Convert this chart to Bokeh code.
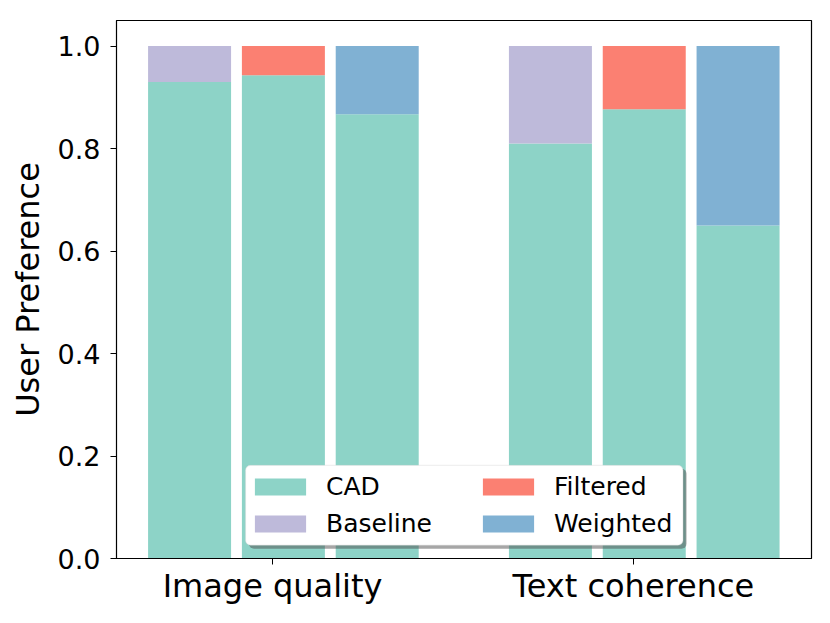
from bokeh.plotting import figure
from bokeh.models import Range1d, FixedTicker, Legend, LegendItem, CustomJSTickFormatter, BoxAnnotation
from bokeh.embed import file_html
from bokeh.resources import INLINE

groups = ["Image quality", "Text coherence"]
comparisons = ["Baseline", "Filtered", "Weighted"]
cad_image_quality = [0.93, 0.943, 0.867]
cad_text_coherence = [0.81, 0.877, 0.65]
colors = {"CAD": "#8dd3c7", "Baseline": "#bebada", "Filtered": "#fb8072", "Weighted": "#80b1d3"}

offsets = [-0.23, 0.03, 0.29]
bar_w = 0.23
cad_by_group = [cad_image_quality, cad_text_coherence]

X0, X1 = -0.4325, 1.4935
Y0, Y1 = 0.0, 1.05
FRAME_W, FRAME_H = 695, 539

p = figure(width=814, height=607, output_backend="svg", toolbar_location=None,
           x_range=Range1d(X0, X1), y_range=Range1d(Y0, Y1))
p.min_border_left = 116
p.min_border_right = 3
p.min_border_top = 20
p.min_border_bottom = 48
p.outline_line_color = "black"
p.outline_line_width = 1.2
p.xgrid.visible = False
p.ygrid.visible = False
p.background_fill_color = "white"

cad_x, cad_top = [], []
for gi, vals in enumerate(cad_by_group):
    for ci, v in enumerate(vals):
        cad_x.append(gi + offsets[ci])
        cad_top.append(v)
r_cad = p.vbar(x=cad_x, top=cad_top, bottom=0, width=bar_w, fill_color=colors["CAD"], line_color=None)

other_renderers = {}
for ci, name in enumerate(comparisons):
    xs = [gi + offsets[ci] for gi in range(len(groups))]
    bottoms = [cad_by_group[gi][ci] for gi in range(len(groups))]
    tops = [1.0 for _ in groups]
    other_renderers[name] = p.vbar(x=xs, top=tops, bottom=bottoms, width=bar_w,
                                   fill_color=colors[name], line_color=None)

# axes
p.xaxis.ticker = FixedTicker(ticks=list(range(len(groups))))
p.xaxis.major_label_overrides = {i: g for i, g in enumerate(groups)}
p.xaxis.major_label_text_font = "DejaVu Sans"
p.xaxis.major_label_text_font_size = "32px"
p.xaxis.major_label_text_color = "black"
p.xaxis.major_label_standoff = 2
p.xaxis.minor_tick_line_color = None
p.xaxis.major_tick_in = 0
p.xaxis.major_tick_out = 6
p.xaxis.major_tick_line_color = "black"
p.xaxis.axis_line_color = "black"

p.yaxis.ticker = FixedTicker(ticks=[0.0, 0.2, 0.4, 0.6, 0.8, 1.0])
p.yaxis.formatter = CustomJSTickFormatter(code="return tick.toFixed(1);")
p.yaxis.major_label_text_font = "DejaVu Sans"
p.yaxis.major_label_text_font_size = "27px"
p.yaxis.major_label_text_color = "black"
p.yaxis.major_label_standoff = 10
p.yaxis.minor_tick_line_color = None
p.yaxis.major_tick_in = 0
p.yaxis.major_tick_out = 6
p.yaxis.major_tick_line_color = "black"
p.yaxis.axis_line_color = "black"
p.yaxis.axis_label = "User Preference"
p.yaxis.axis_label_text_font = "DejaVu Sans"
p.yaxis.axis_label_text_font_size = "32px"
p.yaxis.axis_label_text_font_style = "normal"
p.yaxis.axis_label_text_color = "black"
p.yaxis.axis_label_standoff = 8


# legend frame + shadow, placed in frame pixels (from frame left / bottom)
def px_x(px):
    return X0 + px * (X1 - X0) / FRAME_W


def px_y(px):
    return Y0 + px * (Y1 - Y0) / FRAME_H


box_l, box_r, box_b, box_t = 129, 566.5, 13.3, 93.3
sh = 3.5
shadow = BoxAnnotation(left=px_x(box_l + sh), right=px_x(box_r + sh),
                       bottom=px_y(box_b - sh), top=px_y(box_t - sh),
                       fill_color="#4d4d4d", fill_alpha=0.5, line_color=None,
                       border_radius=5)
p.add_layout(shadow)
frame_box = BoxAnnotation(left=px_x(box_l), right=px_x(box_r),
                          bottom=px_y(box_b), top=px_y(box_t),
                          fill_color="white", fill_alpha=1.0,
                          line_color="#cccccc", line_width=1.3,
                          border_radius=5)
p.add_layout(frame_box)

legend = Legend(items=[
    LegendItem(label="CAD", renderers=[r_cad]),
    LegendItem(label="Baseline", renderers=[other_renderers["Baseline"]]),
    LegendItem(label="Filtered", renderers=[other_renderers["Filtered"]]),
    LegendItem(label="Weighted", renderers=[other_renderers["Weighted"]]),
], location=(132, 20), ncols=2)
legend.label_text_font = "DejaVu Sans"
legend.label_text_font_size = "25px"
legend.label_text_color = "black"
legend.glyph_width = 64
legend.glyph_height = 21
legend.label_standoff = 14
legend.label_height = 29
legend.label_width = 142
legend.spacing = 8
legend.padding = 7
legend.margin = 0
legend.border_line_color = None
legend.background_fill_alpha = 0
p.add_layout(legend)

open("out.html", "w").write(file_html(p, INLINE))
